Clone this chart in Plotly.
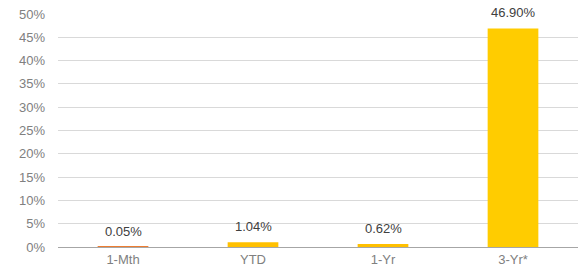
import plotly.graph_objects as go

categories = ["1-Mth", "YTD", "1-Yr", "3-Yr*"]
values = [0.05, 1.04, 0.62, 46.90]
labels = ["0.05%", "1.04%", "0.62%", "46.90%"]
colors = ["#ED7D31", "#FFC000", "#FFC000", "#FFCC00"]

fig = go.Figure(go.Bar(
    x=categories, y=values, marker_color=colors, marker_line_width=0,
    width=0.39,
))
for c, v, t in zip(categories, values, labels):
    fig.add_annotation(x=c, y=v, text=t, showarrow=False, yanchor="bottom",
                       yshift=6, font=dict(family="Arial, Liberation Sans", size=13, color="#404040"))
fig.update_layout(
    width=580, height=272, margin=dict(l=58, r=2, t=14, b=25),
    plot_bgcolor="white", paper_bgcolor="white", showlegend=False,
    font=dict(family="Arial, Liberation Sans", size=13, color="#808080"),
)
fig.update_yaxes(range=[0, 50], dtick=5, ticksuffix="%", showgrid=True,
                 gridcolor="#D9D9D9", gridwidth=1, zeroline=False, automargin=False,
                 ticklabelstandoff=12, tickfont=dict(size=13, color="#808080"))
fig.update_xaxes(showline=True, linecolor="#A6A6A6", linewidth=1, automargin=False,
                 tickfont=dict(size=13, color="#808080"))
fig.write_html("out.html", config={"displayModeBar": False},
               post_script="document.body.style.margin='0px';")
